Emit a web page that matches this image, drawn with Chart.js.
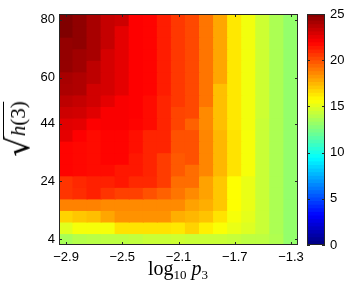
<!DOCTYPE html>
<html>
<head>
<meta charset="utf-8">
<script src="https://cdn.jsdelivr.net/npm/chart.js@4.4.0/dist/chart.umd.min.js"></script>
<style>
    body { margin: 0; background: #fff; }
    #wrap { position: relative; width: 358px; height: 291px; overflow: hidden; }
    #heat { position: absolute; left: 0; top: 0; }
    #cbar { position: absolute; left: 300px; top: 0; }
    .ttl { position: absolute; font-family: 'Liberation Serif', serif; color: #000; white-space: nowrap; }
    #xTitle { left: 178px; top: 257px; transform: translateX(-50%); font-size: 20px; }
    #xTitle sub { font-size: 13px; vertical-align: -4px; line-height: 0; }
    #yTitle { left: 18px; top: 129px; transform: translate(-50%, -50%) rotate(-90deg); font-size: 21px; line-height: 30px; }
    #yTitle .rad { font-size: 32px; vertical-align: -4px; font-family: 'DejaVu Serif', serif; font-weight: normal; }
    #yTitle .arg { border-top: 1.2px solid #000; padding-top: 2px; }
</style>
</head>
<body>
<div id="wrap">
    <canvas id="heat" width="358" height="291"></canvas>
    <canvas id="cbar" width="58" height="291"></canvas>
    <div id="xTitle" class="ttl">log<sub>10</sub> <i>p</i><sub>3</sub></div>
    <div id="yTitle" class="ttl"><span class="rad">√</span><span class="arg"><i>h</i>(3)</span></div>
</div>
<script>
// x categories (log10 p3) and y rows (sqrt h(3)), top row first
const logP = [-2.9, -2.8, -2.7, -2.6, -2.5, -2.4, -2.3, -2.2, -2.1, -2.0, -1.9, -1.8, -1.7, -1.6, -1.5, -1.4, -1.3];
const hRows = [80, 76, 72, 68, 64, 60, 56, 52, 48, 44, 40, 36, 32, 28, 24, 20, 16, 12, 8, 4];
const pTicks = [-2.9, -2.5, -2.1, -1.7, -1.3];
const hTicks = [4, 24, 44, 60, 80];
const barTicks = [0, 5, 10, 15, 20, 25];
const vMin = 0, vMax = 25;

// cell values, one row per hRows entry, one column per logP entry
const cellValues = [
    [25.0, 24.6, 24.0, 23.3, 23.1, 21.9, 21.8, 21.2, 20.5, 20.1, 19.0, 17.8, 16.2, 15.3, 14.4, 13.6, 13.0],
    [25.0, 24.6, 24.0, 23.3, 22.5, 21.9, 21.8, 21.2, 20.5, 20.1, 19.0, 17.8, 16.2, 15.3, 14.4, 13.6, 13.0],
    [24.5, 24.6, 24.0, 23.3, 22.5, 21.9, 21.8, 21.2, 20.5, 20.1, 19.0, 17.8, 16.2, 15.3, 14.4, 13.6, 13.0],
    [24.5, 24.2, 24.0, 22.9, 22.5, 21.9, 21.8, 21.2, 20.5, 20.1, 19.0, 17.8, 16.2, 15.3, 14.4, 13.6, 13.0],
    [24.5, 24.2, 23.5, 22.9, 22.5, 21.9, 21.8, 21.2, 20.5, 20.1, 19.0, 17.8, 16.2, 15.3, 14.4, 13.6, 13.0],
    [24.0, 23.8, 23.5, 22.9, 22.5, 21.9, 21.8, 21.2, 20.5, 20.1, 19.0, 17.8, 16.2, 15.3, 14.4, 13.6, 13.0],
    [23.9, 23.8, 23.0, 22.9, 22.5, 21.9, 21.8, 21.2, 20.5, 20.1, 19.0, 17.2, 16.2, 15.3, 14.4, 13.6, 13.0],
    [23.5, 23.3, 23.0, 22.5, 22.0, 21.9, 21.6, 21.0, 20.5, 20.1, 19.0, 17.2, 16.2, 15.3, 14.4, 13.6, 13.0],
    [23.1, 23.0, 22.6, 22.0, 22.0, 21.9, 21.6, 21.0, 20.2, 20.1, 18.5, 17.2, 16.2, 15.3, 14.4, 13.6, 13.0],
    [22.6, 22.5, 21.9, 22.0, 22.0, 21.8, 21.6, 21.0, 20.2, 19.5, 18.5, 17.2, 16.2, 15.3, 14.3, 13.6, 13.0],
    [22.5, 21.9, 21.6, 21.8, 21.8, 21.5, 21.0, 21.0, 19.9, 19.9, 18.6, 17.4, 16.3, 15.4, 14.3, 13.6, 13.0],
    [21.8, 21.7, 21.6, 21.8, 21.8, 21.5, 21.0, 21.0, 19.9, 19.9, 18.6, 17.4, 16.3, 15.4, 14.3, 13.6, 13.0],
    [21.8, 21.7, 21.6, 21.8, 21.8, 21.3, 21.0, 20.4, 19.7, 19.9, 18.6, 17.4, 16.3, 15.4, 14.3, 13.6, 13.0],
    [21.8, 21.7, 21.6, 21.6, 21.3, 21.3, 21.0, 20.4, 19.7, 19.2, 18.6, 17.4, 16.3, 15.4, 14.3, 13.6, 13.0],
    [20.6, 20.9, 21.1, 21.1, 21.3, 20.9, 20.9, 20.4, 19.2, 19.2, 17.9, 17.0, 15.6, 15.1, 14.3, 13.6, 13.0],
    [20.6, 20.8, 21.1, 20.6, 20.3, 20.3, 19.9, 19.5, 19.0, 18.5, 17.9, 17.0, 15.6, 15.1, 14.3, 13.6, 13.0],
    [18.7, 18.7, 18.7, 18.5, 18.5, 18.5, 18.5, 18.5, 18.5, 17.9, 17.6, 17.0, 15.6, 15.1, 14.3, 13.6, 13.0],
    [16.7, 17.0, 17.2, 17.8, 18.3, 18.3, 18.3, 18.3, 17.6, 17.4, 17.1, 16.3, 15.4, 15.0, 14.3, 13.6, 13.0],
    [14.9, 15.4, 15.4, 15.4, 16.3, 16.3, 16.3, 16.3, 16.2, 16.7, 16.0, 15.5, 15.1, 14.8, 14.3, 13.6, 13.0],
    [13.5, 13.8, 13.9, 14.0, 14.0, 14.1, 14.3, 14.3, 14.4, 14.3, 14.3, 14.3, 14.2, 14.0, 14.0, 13.7, 13.0]
];

const tickFont = { family: "'Liberation Sans', Arial, sans-serif", size: 13 };
const minus = v => String(v).replace('-', '\u2212');

// matlab style jet colormap
function jet(v) {
    const t = Math.min(1, Math.max(0, (v - vMin) / (vMax - vMin)));
    const c = x => Math.round(255 * Math.min(1, Math.max(0, x)));
    const r = c(Math.min(4 * t - 1.5, -4 * t + 4.5));
    const g = c(Math.min(4 * t - 0.5, -4 * t + 3.5));
    const b = c(Math.min(4 * t + 0.5, -4 * t + 2.5));
    return `rgb(${r},${g},${b})`;
}

// axes box with short inward ticks
function framePlugin(xTicks, yTicks) {
    return {
        id: 'frame',
        afterDatasetsDraw(chart) {
            const { ctx, chartArea: a, scales } = chart;
            ctx.save();
            ctx.strokeStyle = '#262626';
            ctx.lineWidth = 1;
            ctx.strokeRect(a.left + 0.5, a.top + 0.5, a.width - 1, a.height - 1);
            ctx.beginPath();
            xTicks.forEach(p => {
                const px = Math.round(scales.x.getPixelForValue(logP.indexOf(p))) + 0.5;
                ctx.moveTo(px, a.bottom); ctx.lineTo(px, a.bottom - 3);
                ctx.moveTo(px, a.top); ctx.lineTo(px, a.top + 3);
            });
            yTicks.forEach(h => {
                const py = Math.round(scales.y.getPixelForValue(h)) + 0.5;
                ctx.moveTo(a.left, py); ctx.lineTo(a.left + 3, py);
                ctx.moveTo(a.right, py); ctx.lineTo(a.right - 3, py);
            });
            ctx.stroke();
            ctx.restore();
        }
    };
}

// heat map: one dataset of floating bars per row
const heatSets = hRows.map((h, ri) => ({
    data: logP.map(() => [h - 2, h + 2]),
    backgroundColor: cellValues[ri].map(jet),
    grouped: false,
    barPercentage: 1,
    categoryPercentage: 1,
    borderWidth: 0,
    inflateAmount: 0.6
}));

new Chart(document.getElementById('heat'), {
    type: 'bar',
    data: { labels: logP.map(minus), datasets: heatSets },
    options: {
        responsive: false,
        animation: false,
        events: [],
        layout: { padding: { top: 14, right: 60, left: 0, bottom: 0 } },
        plugins: { legend: { display: false }, tooltip: { enabled: false } },
        scales: {
            x: {
                grid: { display: false, drawTicks: false },
                border: { display: false },
                afterFit: s => { s.height = 46; },
                ticks: {
                    autoSkip: false, maxRotation: 0, padding: 5, color: '#000', font: tickFont,
                    callback: (val, i) => pTicks.includes(logP[i]) ? minus(logP[i]) : ''
                }
            },
            y: {
                type: 'linear', min: 2, max: 82,
                grid: { display: false, drawTicks: false },
                border: { display: false },
                afterFit: s => { s.width = 59; },
                afterBuildTicks: s => { s.ticks = hTicks.map(v => ({ value: v })); },
                ticks: { padding: 4, color: '#000', font: tickFont }
            }
        }
    },
    plugins: [framePlugin(pTicks, hTicks)]
});

// colour bar: 64 bands from vMin to vMax
const nBands = 64;
const bandStep = (vMax - vMin) / nBands;
const bandSets = Array.from({ length: nBands }, (_, k) => ({
    data: [[vMin + k * bandStep, vMin + (k + 1) * bandStep]],
    backgroundColor: jet(vMin + (k + 0.5) * bandStep),
    grouped: false,
    barPercentage: 1,
    categoryPercentage: 1,
    borderWidth: 0,
    inflateAmount: 0.6
}));

new Chart(document.getElementById('cbar'), {
    type: 'bar',
    data: { labels: [''], datasets: bandSets },
    options: {
        responsive: false,
        animation: false,
        events: [],
        layout: { padding: { top: 14, right: 0, left: 7, bottom: 46 } },
        plugins: { legend: { display: false }, tooltip: { enabled: false } },
        scales: {
            x: { display: false },
            y: {
                type: 'linear', position: 'right', min: vMin, max: vMax,
                grid: { display: false, drawTicks: false },
                border: { display: false },
                afterFit: s => { s.width = 33; },
                afterBuildTicks: s => { s.ticks = barTicks.map(v => ({ value: v })); },
                ticks: { padding: 5, color: '#000', font: tickFont }
            }
        }
    },
    plugins: [{
        id: 'cframe',
        afterDatasetsDraw(chart) {
            const { ctx, chartArea: a, scales } = chart;
            ctx.save();
            ctx.strokeStyle = '#262626';
            ctx.lineWidth = 1;
            ctx.strokeRect(a.left + 0.5, a.top + 0.5, a.width - 1, a.height - 1);
            ctx.beginPath();
            barTicks.forEach(v => {
                const py = Math.round(scales.y.getPixelForValue(v)) + 0.5;
                ctx.moveTo(a.right, py); ctx.lineTo(a.right - 3, py);
                ctx.moveTo(a.left, py); ctx.lineTo(a.left + 3, py);
            });
            ctx.stroke();
            ctx.restore();
        }
    }]
});
</script>
</body>
</html>
